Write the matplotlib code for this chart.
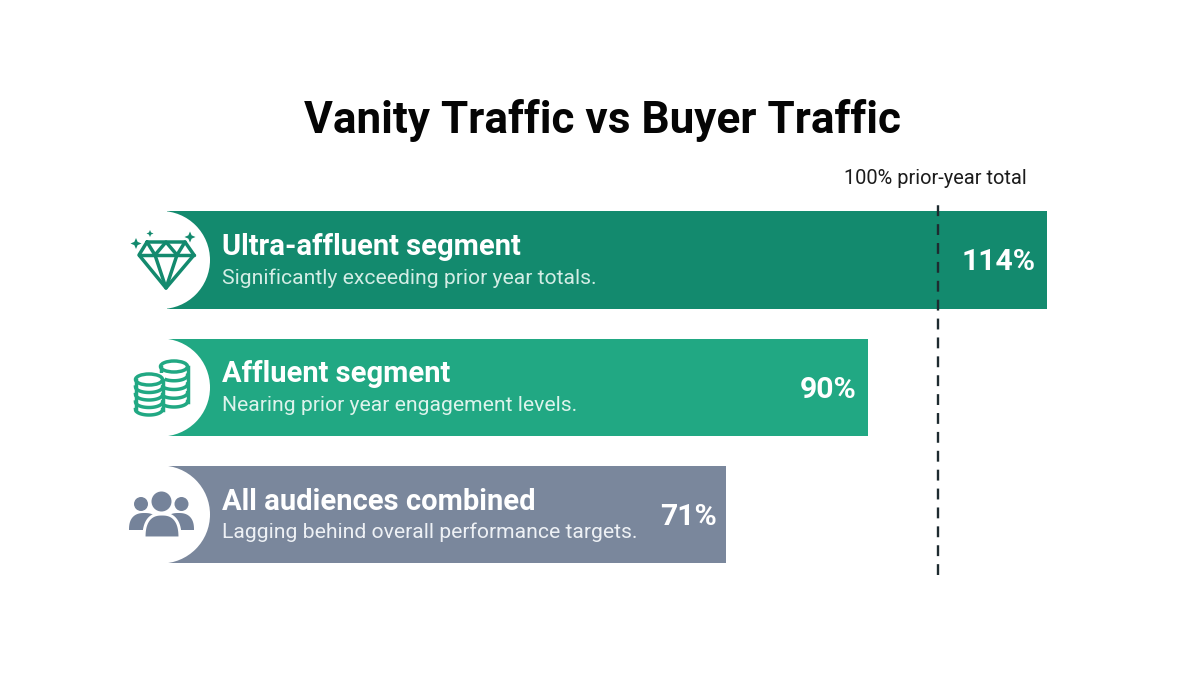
import numpy as np
import matplotlib
matplotlib.use("Agg")
import matplotlib.pyplot as plt
from matplotlib.patches import Circle, Ellipse, Polygon, Rectangle

TITLE = "Vanity Traffic vs Buyer Traffic"
segments = ["Ultra-affluent segment", "Affluent segment", "All audiences combined"]
notes = ["Significantly exceeding prior year totals.",
         "Nearing prior year engagement levels.",
         "Lagging behind overall performance targets."]
values = [114, 90, 71]
value_labels = ["114%", "90%", "71%"]
bar_colors = ["#138A6E", "#21A883", "#7A879C"]
note_colors = ["#D3EDE5", "#DDF3EC", "#EEF1F5"]
REF_LABEL = "100% prior-year total"
REF_POSITION = 99.4   # where the dashed line sits on the bars' scale

plt.rcParams["font.family"] = ["Roboto", "DejaVu Sans"]
fig = plt.figure(figsize=(12, 6.75), dpi=100, facecolor="white")

# bars on a value axis
ax = fig.add_axes([0, 0, 1, 1])
ax.set_xlim(-195.4 / 7.47, (1200 - 195.4) / 7.47)
ax.set_ylim((675 - 260) / 127.3, -260 / 127.3)
ax.axis("off")
y = np.arange(len(values))
base = -3.8
ax.barh(y, np.array(values) - base, left=base, height=0.762,
        color=bar_colors, linewidth=0, zorder=1)
ax.axvline(REF_POSITION, ymin=1 - 575 / 675, ymax=1 - 200 / 675, color="#1E2B30",
           lw=1.7, dashes=(4.6, 3.4), zorder=4)

# overlay in pixel space for the decoration
ov = fig.add_axes([0, 0, 1, 1], facecolor="none")
ov.set_xlim(0, 1200)
ov.set_ylim(675, 0)
ov.axis("off")

centres = [260, 387.5, 514.5]
for cy in centres:
    ov.add_patch(Circle((161, cy), 49, fc="white", ec="none", zorder=2))

ov.text(602, 120, TITLE, ha="center", va="center", fontsize=31.8, fontweight="bold",
        color="#050505", zorder=6)
ov.text(935.5, 179, REF_LABEL, ha="center", va="center", fontsize=14.4, color="#1c1c1c", zorder=6)

for i, cy in enumerate(centres):
    ov.text(222, cy - 13, segments[i], ha="left", va="center", fontsize=21,
            fontweight="bold", color="white", zorder=6)
    ov.text(222, cy + 18, notes[i], ha="left", va="center", fontsize=15.26,
            color=note_colors[i], zorder=6)

value_px = [1036, 856.5, 716.5]
for i, cy in enumerate(centres):
    ov.text(value_px[i], cy + 2.5, value_labels[i], ha="right", va="center", fontsize=21.7,
            fontweight="bold", color="white", zorder=6)

# diamond icon
c = bar_colors[0]
lw = 2.5
def pl(pts, color=c, w=lw):
    xs, ys = zip(*pts)
    ov.plot(xs, ys, color=color, lw=w, solid_joinstyle="round", solid_capstyle="round", zorder=5)

pl([(147, 242), (185, 242), (194, 255), (166, 288), (139, 255), (147, 242)])
pl([(139, 255), (194, 255)])
pl([(147, 242), (155, 255), (166, 242), (177, 255), (185, 242)])
pl([(155, 255), (166, 288), (177, 255)])
def sparkle(x, y, r):
    q = r * 0.3
    ov.add_patch(Polygon([(x - r, y), (x - q, y - q), (x, y - r), (x + q, y - q),
                          (x + r, y), (x + q, y + q), (x, y + r), (x - q, y + q)],
                         closed=True, fc=c, ec="none", zorder=5))
sparkle(136, 243.5, 5.5)
sparkle(150, 233.5, 3.5)
sparkle(190, 237, 5.5)

# coins icon
c2 = bar_colors[1]
def stack(x0, x1, top, bottom, n):
    cx, w = (x0 + x1) / 2, x1 - x0
    e = 5.5
    step = (bottom - top - 2 * e) / n
    ov.add_patch(Ellipse((cx, top + e), w, 2 * e, fc="white", ec=c2, lw=lw, zorder=5))
    t = np.linspace(np.pi, 0, 40)
    for k in range(1, n + 1):
        yc = top + e + k * step
        ov.plot(cx + w / 2 * np.cos(t), yc + e * np.sin(t), color=c2, lw=lw, zorder=5)
    ov.plot([x0, x0], [top + e, top + e + n * step], color=c2, lw=lw, zorder=5)
    ov.plot([x1, x1], [top + e, top + e + n * step], color=c2, lw=lw, zorder=5)

stack(160.5, 187.5, 361, 407, 4)
ov.add_patch(Rectangle((157, 373), 8, 42, fc="white", ec="none", zorder=5))
stack(135.5, 162.5, 374, 415, 4)

# people icon
c3 = "#75839A"
def dome(x0, x1, top, bottom, fc, ec="none", lw_=0, z=5, p=0.8):
    cx, rx, ry = (x0 + x1) / 2, (x1 - x0) / 2, bottom - top
    t = np.linspace(np.pi, 0, 60)
    xs = cx + rx * np.sign(np.cos(t)) * np.abs(np.cos(t)) ** p
    ys = bottom - ry * np.abs(np.sin(t)) ** p
    ov.add_patch(Polygon(np.column_stack([xs, ys]), closed=True, fc=fc, ec=ec, lw=lw_, zorder=z))

ov.add_patch(Circle((141, 504), 7, fc=c3, ec="none", zorder=5))
ov.add_patch(Circle((181.5, 504), 7, fc=c3, ec="none", zorder=5))
ov.add_patch(Circle((161.5, 501.5), 10, fc=c3, ec="none", zorder=5))
dome(129, 160, 513, 530, c3)
dome(163, 194, 513, 530, c3)
dome(144, 180, 514, 538, c3, ec="white", lw_=2.2, z=6)

fig.savefig("out.png", dpi=100, facecolor="white")
